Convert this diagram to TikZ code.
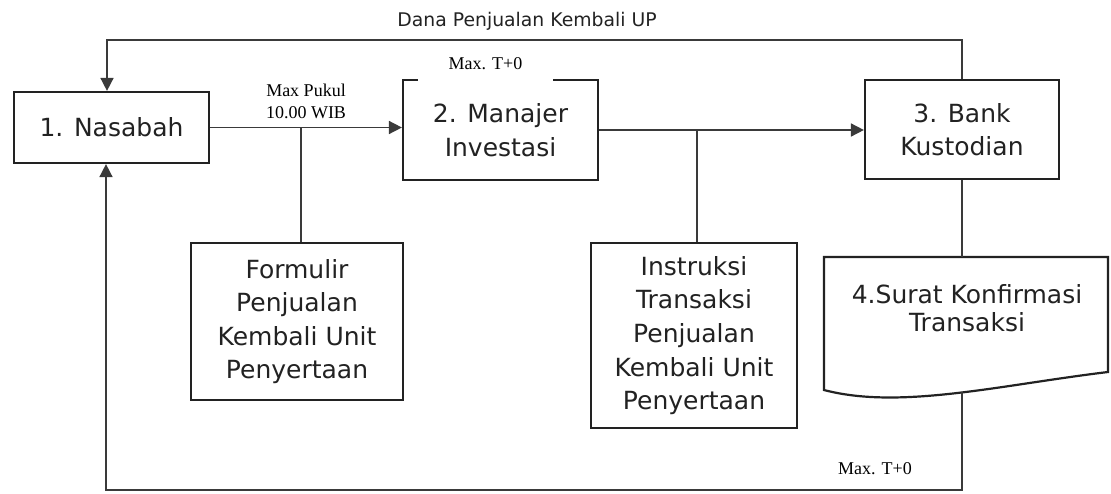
\documentclass[tikz,border=0pt]{standalone}
\usepackage{fontspec}
\setmainfont{DejaVu Sans}
\newfontfamily\labelfont{Liberation Serif}
\usetikzlibrary{arrows.meta}
\definecolor{lineclr}{HTML}{3A3A3A}
\definecolor{txtclr}{HTML}{222222}
\begin{document}
\begin{tikzpicture}[x=0.5pt,y=-0.5pt,
  box/.style={draw=txtclr, line width=1.1pt, fill=white, align=center, inner sep=0pt,
              font=\fontsize{12.5}{16.8}\selectfont, text=txtclr},
  conn/.style={draw=lineclr, line width=0.8pt},
  arr/.style={conn, -{Triangle[length=6.5pt,width=6.5pt]}},
  lbl/.style={font=\labelfont\fontsize{9}{11}\selectfont, align=center, inner sep=0pt, text=black},
  toplbl/.style={font=\fontsize{9.4}{11}\selectfont, inner sep=0pt, text=txtclr}]
\useasboundingbox (0,0) rectangle (1111,493);

% main boxes
\node[box, minimum width=97.5pt, minimum height=35.5pt] (nas) at (111.5,127.5) {1. Nasabah};
\node[box, minimum width=97.5pt, minimum height=50pt] (man) at (500.5,130) {2. Manajer\\Investasi};
\node[box, minimum width=97pt, minimum height=49.5pt] (bank) at (962,129.5) {3. Bank\\Kustodian};
\node[box, minimum width=106pt, minimum height=78.5pt] (form) at (297,321.5) {Formulir\\Penjualan\\Kembali Unit\\Penyertaan};
\node[box, minimum width=103pt, minimum height=92.5pt] (inst) at (694,335.5) {Instruksi\\Transaksi\\Penjualan\\Kembali Unit\\Penyertaan};

% document shape
\coordinate (dtl) at (824,257);
\coordinate (dtr) at (1108,257);
\coordinate (dbr) at (1108,372);
\coordinate (dbl) at (824,390);
\draw[line width=1.1pt, draw=txtclr, fill=white] (dbl) -- (dtl) -- (dtr) -- (dbr)
  .. controls (1000,385) and (900,410) .. (dbl) -- cycle;
\node[font=\fontsize{12.5}{14}\selectfont, align=center, inner sep=0pt, text=txtclr] (doc) at (967,308) {4.Surat Konfirmasi\\Transaksi};

% connectors
\coordinate (tl) at (107,40);
\draw[arr] (bank.north) |- (tl) -- (tl |- nas.north);
\draw[arr] (nas.east) -- (nas.east -| man.west);
\coordinate (j1) at (301,127.5);
\draw[conn] (j1) -- (j1 |- form.north);
\draw[arr] (man.east) -- (man.east -| bank.west);
\coordinate (j2) at (697,130);
\draw[conn] (j2) -- (j2 |- inst.north);
\draw[conn] (bank.south) -- (bank.south |- dtl);
\coordinate (dbot) at (962,392);
\coordinate (bl) at (106,490);
\draw[arr] (dbot) |- (bl) -- (bl |- nas.south);

% labels
\node[toplbl] (dana) at (527,21) {Dana Penjualan Kembali UP};
\node[lbl, fill=white, minimum width=67.5pt, minimum height=18pt] (t0a) at (485.5,64) {Max. T+0};
\node[lbl] (pukul) at (306,101) {Max Pukul\\10.00 WIB};
\node[lbl] (t0b) at (875,469) {Max. T+0};
\end{tikzpicture}
\end{document}
